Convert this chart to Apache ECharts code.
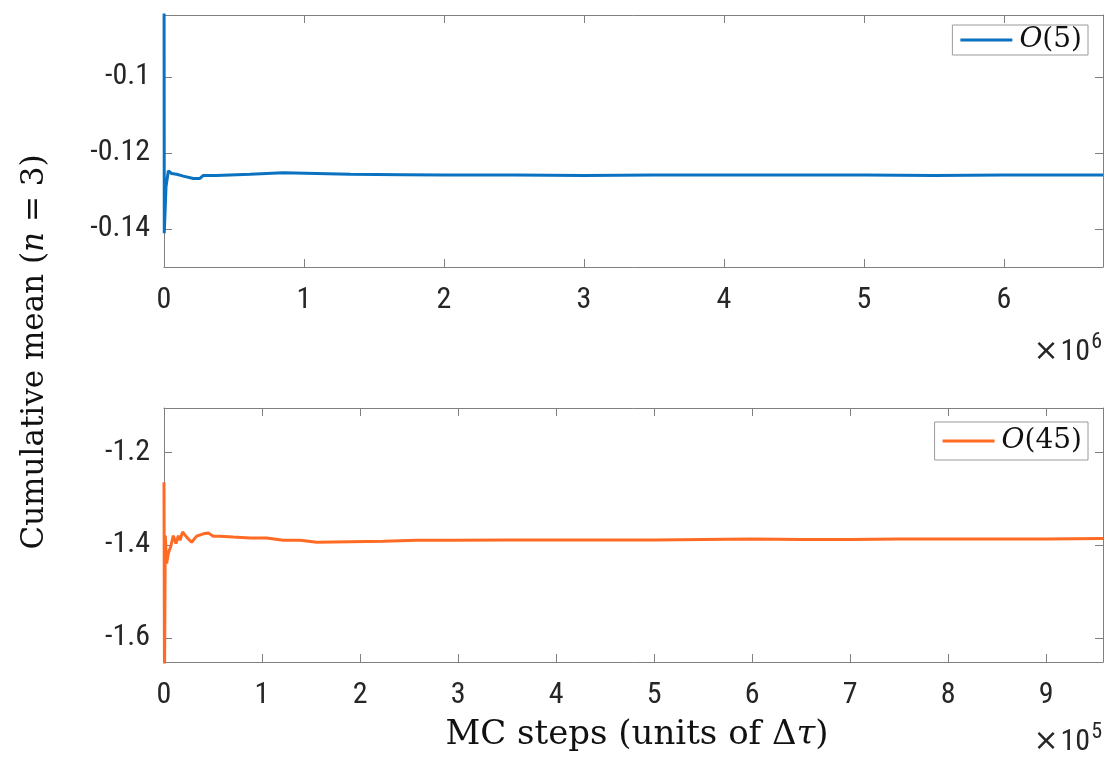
<!DOCTYPE html>
<html>
<head>
<meta charset="utf-8">
<title>Cumulative mean</title>
<script src="https://cdn.jsdelivr.net/npm/echarts@6/dist/echarts.min.js"></script>
<style>
  html, body { margin: 0; padding: 0; background: #fff; }
  #chart { width: 1105px; height: 758px; }
</style>
</head>
<body>
<div id="chart"></div>
<script>
// Cumulative mean of O(5) versus MC steps (upper panel)
const o5Steps = [0, 2000, 14300, 31000, 54800, 90500, 138000, 209500, 257000, 281000,
  376000, 614000, 852000, 1090000, 1329000, 1700000, 2000000, 2500000, 3000000,
  3500000, 4000000, 4500000, 5000000, 5500000, 6000000, 6500000, 6707000];
const o5Mean = [-0.06, -0.1411, -0.1289, -0.1247, -0.1254, -0.1256, -0.1261, -0.1267, -0.1267, -0.1259,
  -0.1259, -0.1256, -0.1252, -0.1254, -0.1256, -0.1257, -0.1258, -0.1258, -0.1259,
  -0.1258, -0.1258, -0.1258, -0.1258, -0.1259, -0.1258, -0.1258, -0.1258];

// Cumulative mean of O(45) versus MC steps (lower panel)
const o45Steps = [0, 500, 1300, 2700, 4400, 6800, 9500, 12200, 14600, 16300, 19000, 23100,
  28200, 33300, 40100, 45200, 50300, 57100, 70700, 87800, 104800, 121800, 138800,
  155800, 189800, 223800, 257800, 291800, 350000, 400000, 450000, 500000, 550000,
  600000, 650000, 700000, 750000, 800000, 850000, 900000, 958000];
const o45Mean = [-1.265, -1.70, -1.38, -1.44, -1.418, -1.404, -1.38, -1.397, -1.38, -1.39, -1.372, -1.383,
  -1.394, -1.381, -1.376, -1.374, -1.381, -1.381, -1.383, -1.385, -1.385, -1.39, -1.39,
  -1.394, -1.393, -1.392, -1.39, -1.39, -1.389, -1.389, -1.389, -1.389, -1.388,
  -1.387, -1.388, -1.388, -1.387, -1.387, -1.387, -1.387, -1.386];

// Tick positions
const topXTicks = [0, 1e6, 2e6, 3e6, 4e6, 5e6, 6e6];
const topYTicks = [-0.14, -0.12, -0.1];
const botXTicks = [0, 1e5, 2e5, 3e5, 4e5, 5e5, 6e5, 7e5, 8e5, 9e5];
const botYTicks = [-1.6, -1.4, -1.2];

const seriesNames = ['O(5)', 'O(45)'];
const colors = ['#0a72c0', '#ff6a25'];

const tickFont = '"Liberation Sans Narrow", "Roboto Condensed", "Liberation Sans", sans-serif';
const serifFont = '"DejaVu Serif", "Liberation Serif", serif';
const axisGray = '#808080';
const textDark = '#262626';

function zip(xs, ys) { return xs.map((x, i) => [x, ys[i]]); }

function xAxisFor(grid, max, ticks, scale, mirror) {
  return {
    gridIndex: grid, type: 'value', min: 0, max: max,
    position: mirror ? 'top' : 'bottom',
    axisLine: { show: true, onZero: false, lineStyle: { color: axisGray, width: 1 } },
    axisTick: { show: true, inside: true, length: 8, customValues: ticks, lineStyle: { color: axisGray } },
    axisLabel: {
      show: !mirror, customValues: ticks, margin: 18,
      fontFamily: tickFont, fontSize: 30, color: textDark,
      formatter: v => String(Math.round(v / scale))
    },
    splitLine: { show: false }
  };
}

function yAxisFor(grid, min, max, ticks, mirror) {
  return {
    gridIndex: grid, type: 'value', min: min, max: max,
    position: mirror ? 'right' : 'left',
    axisLine: { show: true, onZero: false, lineStyle: { color: axisGray, width: 1 } },
    axisTick: { show: true, inside: true, length: 8, customValues: ticks, lineStyle: { color: axisGray } },
    axisLabel: {
      show: !mirror, customValues: ticks, margin: 14,
      fontFamily: tickFont, fontSize: 30, color: textDark,
      formatter: v => String(v)
    },
    splitLine: { show: false }
  };
}

function legendFor(name, top, right, padV) {
  return {
    data: [name], top: top, right: right, orient: 'horizontal',
    borderColor: '#9a9a9a', borderWidth: 1, borderRadius: 0,
    padding: [padV, 6, padV, 8], backgroundColor: '#fff',
    icon: 'rect', itemWidth: 52, itemHeight: 3, itemGap: 0,
    selectedMode: false,
    formatter: n => '{i|O}{r|' + n.slice(1) + '}',
    textStyle: {
      padding: [0, 0, 0, 2],
      rich: {
        i: { fontFamily: serifFont, fontStyle: 'italic', fontSize: 28, color: '#111' },
        r: { fontFamily: serifFont, fontSize: 28, color: '#111' }
      }
    }
  };
}

function exponentLabel(power, y) {
  return {
    type: 'text', x: 1102, y: y,
    style: {
      text: '{m|×}10{s|' + power + '}', fontFamily: tickFont, fontSize: 30, fill: textDark,
      align: 'right', verticalAlign: 'middle',
      rich: {
        m: { fontFamily: '"DejaVu Sans", sans-serif', fontSize: 30, fill: textDark, padding: [0, 2, 0, 0] },
        s: { fontFamily: tickFont, fontSize: 22, fill: textDark, verticalAlign: 'top', padding: [0, 0, 20, 1] }
      }
    }
  };
}

const chart = echarts.init(document.getElementById('chart'), null, { renderer: 'canvas' });

chart.setOption({
  animation: false,
  backgroundColor: '#fff',
  grid: [
    { left: 164, top: 15, width: 939, height: 252, show: false },
    { left: 164, top: 408, width: 939, height: 254, show: false }
  ],
  xAxis: [
    xAxisFor(0, 6.707e6, topXTicks, 1e6, false),
    xAxisFor(0, 6.707e6, topXTicks, 1e6, true),
    xAxisFor(1, 9.58e5, botXTicks, 1e5, false),
    xAxisFor(1, 9.58e5, botXTicks, 1e5, true)
  ],
  yAxis: [
    yAxisFor(0, -0.15, -0.0837, topYTicks, false),
    yAxisFor(0, -0.15, -0.0837, topYTicks, true),
    yAxisFor(1, -1.652, -1.105, botYTicks, false),
    yAxisFor(1, -1.652, -1.105, botYTicks, true)
  ],
  legend: [
    legendFor(seriesNames[0], 25, 17, 1),
    legendFor(seriesNames[1], 422, 17, 5)
  ],
  series: [
    {
      name: seriesNames[0], type: 'line', xAxisIndex: 0, yAxisIndex: 0,
      data: zip(o5Steps, o5Mean), symbol: 'none', clip: true,
      color: colors[0], lineStyle: { color: colors[0], width: 3 }
    },
    {
      name: seriesNames[1], type: 'line', xAxisIndex: 2, yAxisIndex: 2,
      data: zip(o45Steps, o45Mean), symbol: 'none', clip: true,
      color: colors[1], lineStyle: { color: colors[1], width: 3 }
    }
  ],
  graphic: [
    {
      type: 'text', x: 35, y: 352, rotation: Math.PI / 2,
      style: {
        text: 'Cumulative mean ({i|n} = 3)',
        fontFamily: serifFont, fontSize: 31, fill: '#111',
        align: 'center', verticalAlign: 'middle',
        rich: { i: { fontFamily: serifFont, fontStyle: 'italic', fontSize: 31, fill: '#111' } }
      }
    },
    {
      type: 'text', x: 637, y: 735,
      style: {
        text: 'MC steps (units of Δ{i|τ})',
        fontFamily: serifFont, fontSize: 34, fill: '#111',
        align: 'center', verticalAlign: 'middle',
        rich: { i: { fontFamily: serifFont, fontStyle: 'italic', fontSize: 34, fill: '#111' } }
      }
    },
    exponentLabel(6, 352),
    exponentLabel(5, 742)
  ]
});
</script>
</body>
</html>
